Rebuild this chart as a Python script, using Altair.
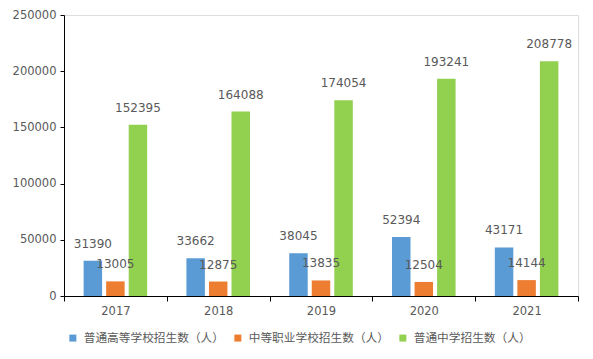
import altair as alt
import pandas as pd

years = ["2017", "2018", "2019", "2020", "2021"]
series = ["普通高等学校招生数（人）", "中等职业学校招生数（人）", "普通中学招生数（人）"]
higher = [31390, 33662, 38045, 52394, 43171]
vocational = [13005, 12875, 13835, 12504, 14144]
middle = [152395, 164088, 174054, 193241, 208778]
colors = ["#5B9BD5", "#ED7D31", "#92D050"]

rows = []
for i, y in enumerate(years):
    for s, vals in zip(series, [higher, vocational, middle]):
        rows.append({"year": y, "series": s, "value": vals[i]})
df = pd.DataFrame(rows)

FONT = "DejaVu Sans, Noto Sans CJK SC"
CJK = "Noto Sans CJK SC"
GRAY = "#595959"

x = alt.X("year:N", title=None, sort=years,
          scale=alt.Scale(paddingInner=0, paddingOuter=0),
          axis=alt.Axis(labelAngle=0, tickBand="extent", domainColor="#000000",
                        tickColor="#000000", tickSize=5, labelColor=GRAY,
                        labelFontSize=11.5, labelFont=FONT, labelPadding=4, grid=False))
xo = alt.XOffset("series:N", sort=series,
                 scale=alt.Scale(paddingInner=0.18, paddingOuter=0.87))
y = alt.Y("value:Q", title=None,
          scale=alt.Scale(domain=[0, 250000], nice=False),
          axis=alt.Axis(values=[0, 50000, 100000, 150000, 200000, 250000], format="d",
                        grid=False, domainColor="#000000", tickColor="#000000",
                        tickSize=4, labelColor=GRAY, labelFontSize=11.5,
                        labelFont=FONT, labelPadding=4))
color = alt.Color("series:N", sort=series,
                  scale=alt.Scale(domain=series, range=colors),
                  legend=alt.Legend(title=None, orient="none", direction="horizontal",
                                    legendX=3, legendY=317, padding=0,
                                    symbolType="square",
                                    symbolSize=49, symbolStrokeWidth=0,
                                    labelFontSize=11.7, labelFont=CJK,
                                    labelColor=GRAY, labelOffset=5,
                                    columnPadding=8, labelLimit=300))

bars = alt.Chart(df).mark_bar().encode(x=x, xOffset=xo, y=y, color=color)
labels = alt.Chart(df).mark_text(baseline="bottom", dy=-10, fontSize=12,
                                 font=FONT, color=GRAY).encode(
    x=x, xOffset=xo, y=y, text=alt.Text("value:Q", format="d"))

chart = (bars + labels).properties(
    width=514, height=281,
    autosize=alt.AutoSizeParams(type="none"),
    padding={"left": 56, "top": 7, "right": 7, "bottom": 55},
).configure_view(stroke=None).configure(background="white")

chart.save("out.html", embed_options={"renderer": "svg", "actions": False})
